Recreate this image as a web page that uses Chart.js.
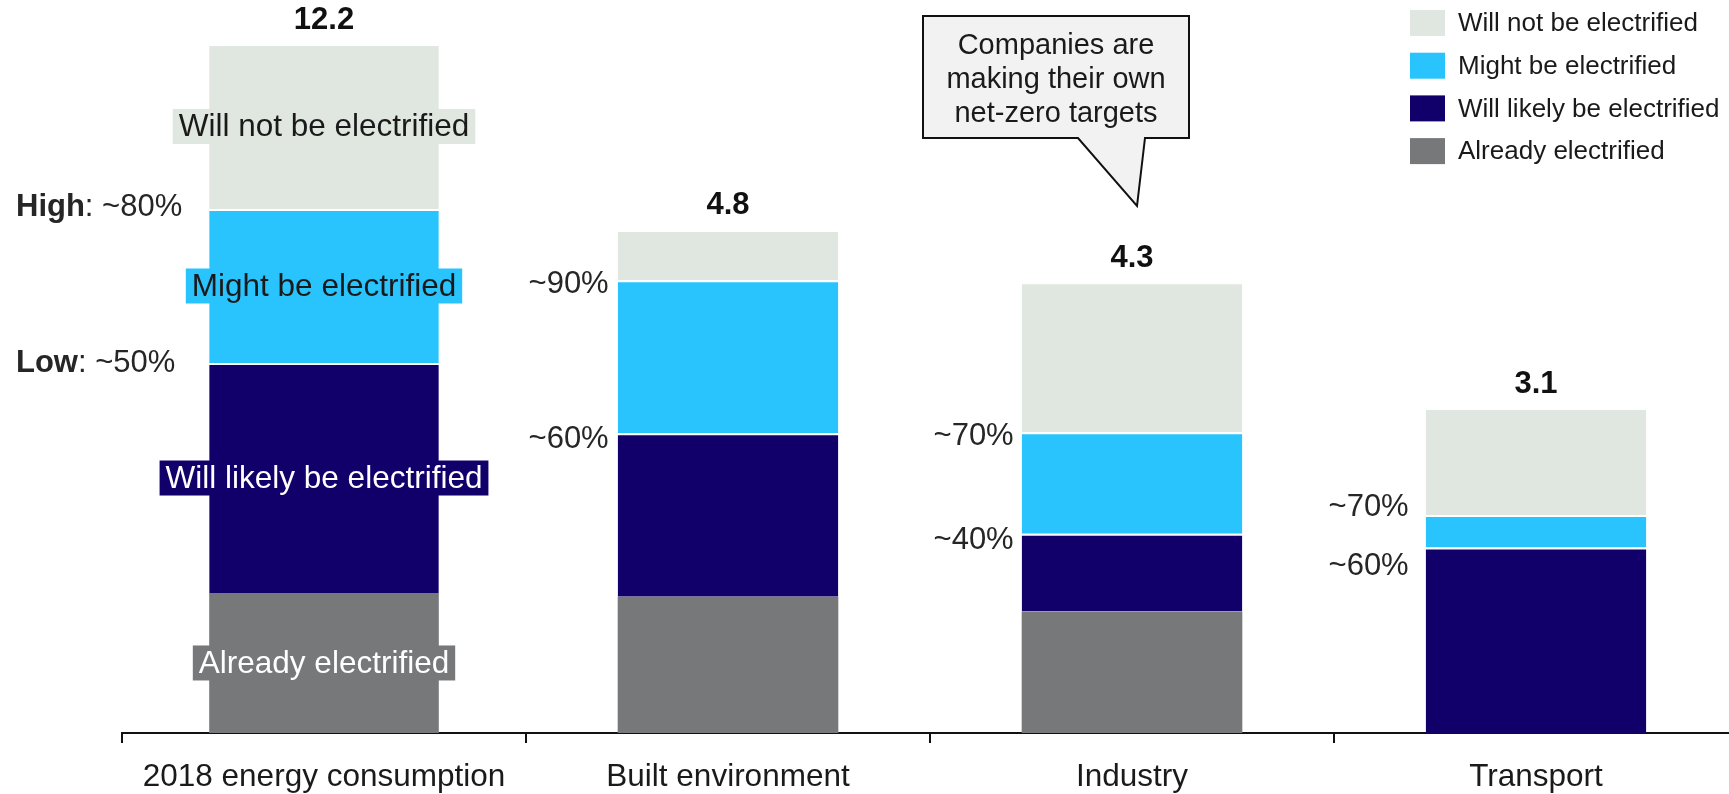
<!DOCTYPE html>
<html>
<head>
<meta charset="utf-8">
<script src="https://cdn.jsdelivr.net/npm/chart.js@4.4.1/dist/chart.umd.min.js"></script>
<style>
  html, body { margin: 0; padding: 0; background: #fff; overflow: hidden; }
  #wrap { width: 1745px; height: 794px; position: relative; }
</style>
</head>
<body>
<div id="wrap"><canvas id="chart"></canvas></div>
<script>
const FONT = "'Liberation Sans', Arial, sans-serif";

// categories and totals
const categories = ['2018 energy consumption', 'Built environment', 'Industry', 'Transport'];
const totals = [12.2, 4.8, 4.3, 3.1];

// segments (bottom to top)
const alreadyElectrified = [2.48, 1.30, 1.16, 0];
const willLikely = [4.07, 1.56, 0.74, 1.77];
const mightBe = [2.73, 1.46, 0.97, 0.31];
const willNot = [2.92, 0.48, 1.43, 1.02];

// share labels
const lowLabels = ['~50%', '~60%', '~40%', '~60%'];
const highLabels = ['~80%', '~90%', '~70%', '~70%'];

const seriesNames = ['Already electrified', 'Will likely be electrified', 'Might be electrified', 'Will not be electrified'];
const seriesColors = ['#77787A', '#11006A', '#29C4FE', '#E0E7E0'];
const seriesText = ['#ffffff', '#ffffff', '#1a1a1a', '#1a1a1a'];
const seriesValues = [alreadyElectrified, willLikely, mightBe, willNot];

// first bar is drawn on its own (compressed) scale
const datasets = [];
seriesValues.forEach((vals, s) => {
    const common = {
        label: seriesNames[s],
        backgroundColor: seriesColors[s],
        borderColor: '#ffffff',
        borderWidth: { top: s === 0 ? 0 : 2, bottom: 0, left: 0, right: 0 },
        borderSkipped: false,
        categoryPercentage: 0.555
    };
    datasets.push(Object.assign({}, common, {
        data: vals.map((v, i) => i === 0 ? v : null),
        yAxisID: 'y2', barPercentage: 1.024
    }));
    datasets.push(Object.assign({}, common, {
        data: vals.map((v, i) => i === 0 ? null : v),
        yAxisID: 'y', barPercentage: 0.984
    }));
});

// annotation tweaks (pixel offsets for the share labels)
const shareLabelStyle = {
    highDy: [-1, 4, 4, -8],
    lowDy: [0, 6, 7, 19],
    gap: [0, 9, 8, 17]
};

const annotations = {
    id: 'annotations',
    afterDatasetsDraw(chart) {
        const ctx = chart.ctx;
        const xs = chart.scales.x;
        ctx.save();

        // totals above bars
        ctx.font = `bold 31px ${FONT}`;
        ctx.fillStyle = '#111';
        ctx.textAlign = 'center';
        ctx.textBaseline = 'middle';
        totals.forEach((t, i) => {
            const sc = i === 0 ? chart.scales.y2 : chart.scales.y;
            ctx.fillText(String(t), xs.getPixelForValue(i), sc.getPixelForValue(t) - 24);
        });

        // labels inside the first bar
        ctx.font = `31.5px ${FONT}`;
        seriesNames.forEach((name, s) => {
            const el = chart.getDatasetMeta(s * 2).data[0];
            const cy = (el.y + el.base) / 2;
            const w = ctx.measureText(name).width + 12;
            ctx.fillStyle = seriesColors[s];
            ctx.fillRect(el.x - w / 2, cy - 17.5, w, 35);
            ctx.fillStyle = seriesText[s];
            ctx.fillText(name, el.x, cy + 1);
        });

        // low / high share labels
        categories.forEach((c, i) => {
            const sc = i === 0 ? chart.scales.y2 : chart.scales.y;
            const lowV = alreadyElectrified[i] + willLikely[i];
            const highV = lowV + mightBe[i];
            const yLow = sc.getPixelForValue(lowV) + shareLabelStyle.lowDy[i];
            const yHigh = sc.getPixelForValue(highV) + shareLabelStyle.highDy[i];
            ctx.fillStyle = '#262626';
            if (i === 0) {
                [['High', highLabels[0], yHigh], ['Low', lowLabels[0], yLow]].forEach(([b, v, y]) => {
                    ctx.textAlign = 'left';
                    ctx.font = `bold 31px ${FONT}`;
                    ctx.fillText(b, 16, y);
                    const bw = ctx.measureText(b).width;
                    ctx.font = `31px ${FONT}`;
                    ctx.fillText(': ' + v, 16 + bw, y);
                });
            } else {
                const el = chart.getDatasetMeta(1).data[i];
                const left = el.x - el.width / 2 - shareLabelStyle.gap[i];
                ctx.textAlign = 'right';
                ctx.font = `31px ${FONT}`;
                ctx.fillText(highLabels[i], left, yHigh);
                ctx.fillText(lowLabels[i], left, yLow);
            }
        });

        // callout pointing at Industry
        const tipX = xs.getPixelForValue(2) + 5;
        const tipY = 206;
        const bx0 = 923, bx1 = 1189, by0 = 16, by1 = 138;
        ctx.beginPath();
        ctx.moveTo(bx0, by0);
        ctx.lineTo(bx1, by0);
        ctx.lineTo(bx1, by1);
        ctx.lineTo(1145, by1);
        ctx.lineTo(tipX, tipY);
        ctx.lineTo(1078, by1);
        ctx.lineTo(bx0, by1);
        ctx.closePath();
        ctx.fillStyle = '#f2f2f2';
        ctx.fill();
        ctx.lineWidth = 2;
        ctx.strokeStyle = '#111';
        ctx.stroke();
        ctx.fillStyle = '#1a1a1a';
        ctx.textAlign = 'center';
        ctx.font = `29px ${FONT}`;
        ['Companies are', 'making their own', 'net-zero targets'].forEach((t, k) => {
            ctx.fillText(t, 1056, 46 + k * 34);
        });

        // legend (top to bottom = top segment first)
        ctx.textAlign = 'left';
        ctx.font = `26px ${FONT}`;
        for (let k = 0; k < 4; k++) {
            const s = 3 - k;
            const top = 10 + k * 42.7;
            ctx.fillStyle = seriesColors[s];
            ctx.fillRect(1410, top, 35, 26);
            ctx.fillStyle = '#1a1a1a';
            ctx.fillText(seriesNames[s], 1458, top + 14);
        }
        ctx.restore();
    }
};

new Chart(document.getElementById('chart'), {
    type: 'bar',
    data: { labels: categories, datasets: datasets },
    options: {
        responsive: true,
        maintainAspectRatio: false,
        animation: false,
        layout: { padding: { left: 122, right: 7, top: 44, bottom: 0 } },
        plugins: { legend: { display: false }, tooltip: { enabled: false } },
        scales: {
            x: {
                stacked: true,
                offset: true,
                grid: { offset: true, drawOnChartArea: false, drawTicks: true, tickLength: 10, color: '#111', lineWidth: 2 },
                border: { display: true, color: '#111', width: 2 },
                ticks: { color: '#1a1a1a', font: { family: FONT, size: 31.5, lineHeight: 1.2 }, padding: 15, maxRotation: 0, autoSkip: false },
                afterFit(scale) { scale.height = 61; }
            },
            y: { stacked: true, display: false, min: 0, max: 6.574 },
            y2: { stacked: true, display: false, min: 0, max: 12.2 }
        }
    },
    plugins: [annotations]
});
</script>
</body>
</html>
